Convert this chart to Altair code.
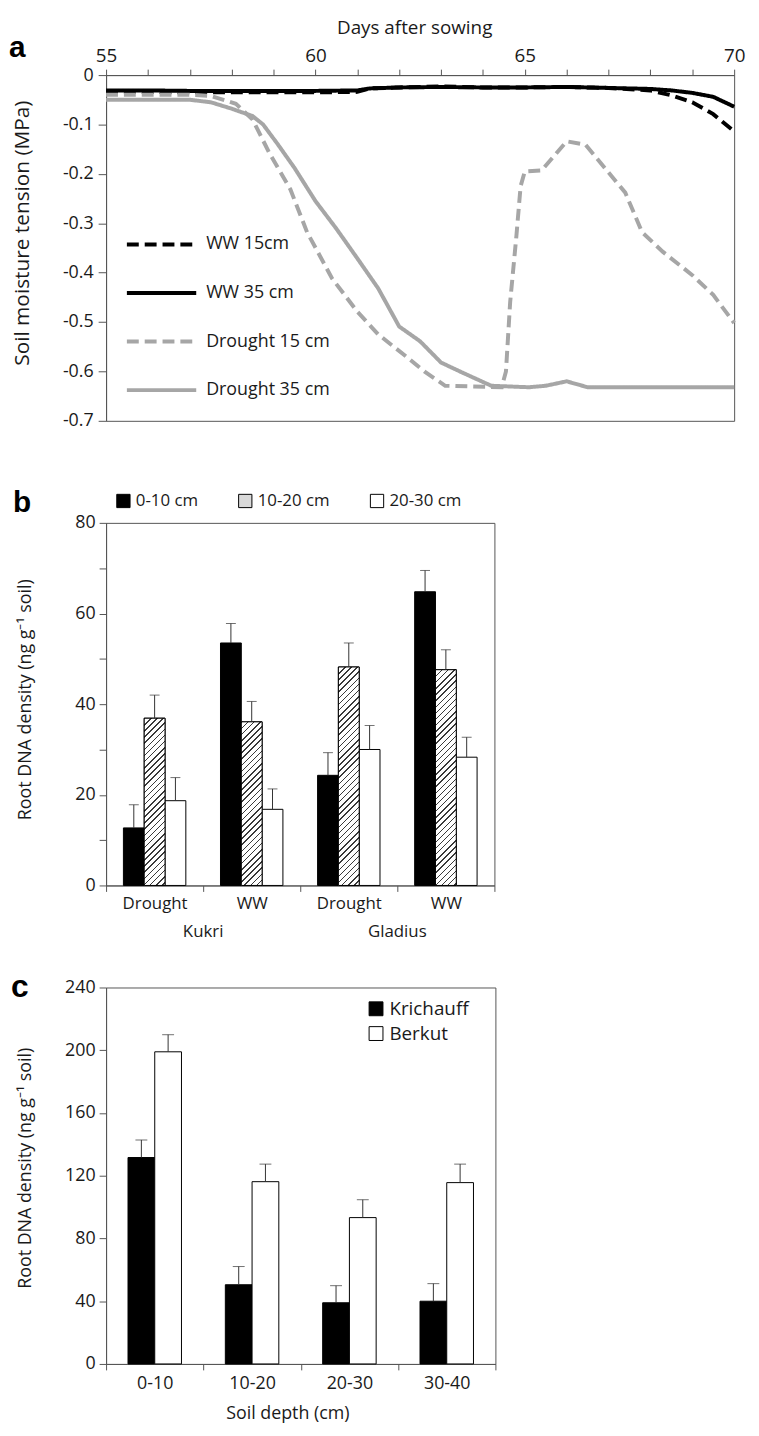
import altair as alt
import pandas as pd

# ---------------- data ----------------
panel_labels = ["a", "b", "c"]

# panel a : soil moisture tension
a_series = ["WW 15cm", "WW 35 cm", "Drought 15 cm", "Drought 35 cm"]
ww15_day = [55, 56, 57, 58, 59, 60, 61, 61.3, 62, 63, 64, 65, 66, 67, 68, 68.5, 69, 69.5, 70]
ww15_val = [-0.034, -0.034, -0.035, -0.035, -0.035, -0.035, -0.034, -0.027, -0.025, -0.023, -0.025,
            -0.025, -0.024, -0.026, -0.031, -0.041, -0.055, -0.079, -0.114]
ww35_day = [55, 56, 57, 58, 59, 60, 61, 61.3, 62, 63, 64, 65, 66, 67, 68, 68.5, 69, 69.5, 70]
ww35_val = [-0.031, -0.031, -0.032, -0.032, -0.032, -0.032, -0.031, -0.027, -0.025, -0.024, -0.025,
            -0.025, -0.024, -0.026, -0.028, -0.031, -0.036, -0.044, -0.064]
d15_day = [55, 56, 57, 57.5, 58.1, 58.5, 58.9, 59.4, 59.8, 60.4, 61.0, 61.5, 62.2, 62.6, 63.1, 64.45,
           64.55, 64.65, 64.8, 64.9, 65.0, 65.4, 66.0, 66.45, 67.4, 67.8, 68.3, 69.0, 69.5, 70]
d15_val = [-0.040, -0.040, -0.040, -0.042, -0.058, -0.090, -0.158, -0.231, -0.318, -0.412, -0.479,
           -0.525, -0.572, -0.600, -0.629, -0.632, -0.600, -0.460, -0.325, -0.225, -0.195, -0.193,
           -0.134, -0.141, -0.238, -0.318, -0.358, -0.405, -0.445, -0.502]
d35_day = [55, 56, 57, 57.5, 58, 58.5, 58.75, 59.1, 59.5, 60.0, 60.5, 61.0, 61.5, 62.0, 62.5, 63.0,
           63.5, 64.2, 65.1, 65.5, 66.0, 66.5, 67, 68, 69, 70]
d35_val = [-0.050, -0.050, -0.050, -0.055, -0.068, -0.083, -0.100, -0.140, -0.188, -0.255, -0.311,
           -0.371, -0.432, -0.509, -0.539, -0.582, -0.602, -0.629, -0.632, -0.629, -0.620, -0.632,
           -0.632, -0.632, -0.632, -0.632]
a_x_ticks = list(range(55, 71))
a_y_ticks = [0, -0.1, -0.2, -0.3, -0.4, -0.5, -0.6, -0.7]
a_x_title = "Days after sowing"
a_y_title = "Soil moisture  tension (MPa)"

# panel b : root DNA density, Kukri / Gladius
b_groups = ["Kukri Drought", "Kukri WW", "Gladius Drought", "Gladius WW"]
b_cultivars = ["Kukri", "Gladius"]
b_depths = ["0-10 cm", "10-20 cm", "20-30 cm"]
b_d1 = [12.7, 53.5, 24.3, 64.8]
b_d2 = [36.9, 36.1, 48.2, 47.6]
b_d3 = [18.7, 16.8, 30.0, 28.3]
b_e1 = [5.1, 4.3, 5.0, 4.7]
b_e2 = [5.1, 4.5, 5.3, 4.4]
b_e3 = [5.1, 4.5, 5.3, 4.4]
b_y_ticks = list(range(0, 81, 10))
b_y_title = "Root DNA density (ng g\u207b\u00b9 soil)"

# panel c : root DNA density, Krichauff / Berkut
c_depths = ["0-10", "10-20", "20-30", "30-40"]
c_cultivars = ["Krichauff", "Berkut"]
c_krich = [131.6, 50.5, 39.0, 40.0]
c_krich_err = [11.2, 11.6, 10.9, 11.2]
c_berkut = [199.0, 116.2, 93.3, 115.6]
c_berkut_err = [10.9, 11.2, 11.4, 11.8]
c_y_ticks = list(range(0, 241, 20))
c_x_title = "Soil depth (cm)"
c_y_title = "Root DNA density (ng g\u207b\u00b9 soil)"

# ---------------- layout / style ----------------
W_A, H_A = 634, 349
W_B, H_B = 392, 366
W_C, H_C = 393, 380
GREY = "#a6a6a6"
AX = "#555555"
TXT = "#1a1a1a"
SANS = "Open Sans"
B_PAD = 0.833
C_PAD = 0.82


def hatch(w, h, period=6.2, line=1.5, ink="#3a3a3a", paper="white"):
    a = (w + h) / (w * w + h * h)
    n = (w + h) / period
    stops = []
    k = 0
    while k / n < 1:
        o0 = k / n
        o1 = min((k + line / period) / n, 1)
        o2 = min((k + 1) / n, 1)
        stops += [(o0, ink), (o1, ink), (o1, paper), (o2, paper)]
        k += 1
    return {"gradient": "linear", "x1": 0, "y1": 0, "x2": a * w, "y2": a * h,
            "stops": [{"offset": round(o, 5), "color": c} for o, c in stops]}


def spacer(y0, y1):
    return alt.Chart(pd.DataFrame({"s": [0]})).mark_rule(opacity=0).encode(
        x=alt.value(-98), x2=alt.value(-98), y=alt.value(y0), y2=alt.value(y1))


def panel_tag(lab, x, y, size=30):
    return alt.Chart(pd.DataFrame({"lab": [lab]})).mark_text(
        font="Liberation Sans", fontWeight="bold", fontSize=size, align="left",
        baseline="alphabetic", color="black").encode(
        text="lab:N", x=alt.value(x), y=alt.value(y))


# ---------------- panel a ----------------
rows = []
for name, days, vals in zip(a_series, [ww15_day, ww35_day, d15_day, d35_day],
                            [ww15_val, ww35_val, d15_val, d35_val]):
    for d, v in zip(days, vals):
        rows.append({"series": name, "day": d, "val": v})
dfa = pd.DataFrame(rows)

a_leg = alt.Legend(title=None, orient="none", legendX=29, legendY=144,
                   symbolType="M-1.4,0H1.4", symbolSize=2500, symbolStrokeWidth=4,
                   labelFont=SANS, labelFontSize=18, labelColor=TXT, labelOffset=18,
                   rowPadding=13)

a_lines = alt.Chart(dfa).mark_line(strokeWidth=4).encode(
    x=alt.X("day:Q", scale=alt.Scale(domain=[55, 70], nice=False, zero=False),
            axis=alt.Axis(orient="top", values=a_x_ticks,
                          labelExpr="datum.value % 5 == 0 ? datum.label : ''",
                          labelFlush=False, labelOverlap=False,
                          title=a_x_title, titleX=311, titleY=-48, titleBaseline="middle",
                          titleFont=SANS, titleFontSize=19, titleFontWeight="normal",
                          titleColor=TXT, labelFont=SANS, labelFontSize=19, labelColor=TXT,
                          tickSize=6, labelPadding=4, domainColor=AX, tickColor=AX, grid=False)),
    y=alt.Y("val:Q", scale=alt.Scale(domain=[-0.7, 0], nice=False, zero=False),
            axis=alt.Axis(values=a_y_ticks,
                          labelExpr="datum.value == 0 ? '0' : '-' + format(abs(datum.value), '.1f')",
                          title=a_y_title, titleX=-84, titleY=159, titleBaseline="middle",
                          titleAngle=-90, titleFont=SANS, titleFontSize=21,
                          titleFontWeight="normal", titleColor=TXT, labelFont=SANS,
                          labelFontSize=18, labelColor=TXT, tickSize=8, labelPadding=5,
                          domainColor=AX, tickColor=AX, grid=False)),
    color=alt.Color("series:N", scale=alt.Scale(domain=a_series,
                                                range=["black", "black", GREY, GREY]),
                    legend=a_leg),
    strokeDash=alt.StrokeDash("series:N", scale=alt.Scale(domain=a_series,
                                                          range=[[12, 6], [1, 0], [12, 6], [1, 0]]),
                              legend=a_leg),
)

panel_a = alt.layer(spacer(-60, H_A + 20), a_lines, panel_tag(panel_labels[0], -98, -18)).properties(
    width=W_A, height=H_A)

# ---------------- panel b ----------------
b_rows = []
for d, vals, errs in zip(b_depths, [b_d1, b_d2, b_d3], [b_e1, b_e2, b_e3]):
    for g, v, e in zip(b_groups, vals, errs):
        b_rows.append({"group": g, "depth": d, "val": v, "hi": v + e})
dfb = pd.DataFrame(b_rows)

xb = alt.X("group:N", scale=alt.Scale(type="band", domain=b_groups, paddingInner=0, paddingOuter=0),
           axis=alt.Axis(title=None, labelExpr="split(datum.label, ' ')[1]", labelAngle=0,
                         tickBand="extent", tickSize=6, labelPadding=4, labelFont=SANS,
                         labelFontSize=17, labelColor=TXT, domainColor=AX, tickColor=AX))
xob = alt.XOffset("depth:N", scale=alt.Scale(type="band", domain=b_depths, paddingInner=0,
                                              paddingOuter=B_PAD))
yb = alt.Y("val:Q", scale=alt.Scale(domain=[0, 80], nice=False),
           axis=alt.Axis(values=b_y_ticks, labelExpr="datum.value % 20 == 0 ? datum.label : ''",
                         title=b_y_title, titleX=-81, titleY=178, titleBaseline="middle",
                         titleFont=SANS, titleFontSize=18, titleFontWeight="normal",
                         titleColor=TXT, labelFont=SANS, labelFontSize=18, labelColor=TXT,
                         tickSize=7, labelPadding=4, domainColor=AX, tickColor=AX, grid=False))

b_leg = alt.Legend(title=None, orient="none", legendX=9, legendY=-31, direction="horizontal",
                   symbolType="square", symbolSize=180, symbolStrokeColor="black",
                   symbolStrokeWidth=1, labelFont=SANS, labelFontSize=17, labelColor=TXT,
                   columnPadding=38, labelOffset=4)

b_bars = alt.Chart(dfb).mark_bar(stroke="black", strokeWidth=1).encode(
    x=xb, xOffset=xob, y=yb,
    fill=alt.Fill("depth:N", scale=alt.Scale(domain=b_depths, range=["black", "#d9d9d9", "white"]),
                  legend=b_leg))

bar_w_b = W_B / len(b_groups) / (len(b_depths) + 2 * B_PAD)
b_hatch_layers = []
for g, v in zip(b_groups, b_d2):
    h = v * H_B / 80.0
    b_hatch_layers.append(
        alt.Chart(dfb).transform_filter(
            f"datum.group == '{g}' && datum.depth == '{b_depths[1]}'"
        ).mark_bar(fill=hatch(bar_w_b, h), stroke="black", strokeWidth=1).encode(
            x=xb, xOffset=xob, y=yb))

b_err = alt.Chart(dfb).mark_rule(color="#333333", strokeWidth=1).encode(
    x=xb, xOffset=xob, y=yb, y2="hi:Q")
b_cap = alt.Chart(dfb).mark_tick(color="#333333", thickness=1, size=10).encode(
    x=xb, xOffset=xob, y=alt.Y("hi:Q"))

b_cult = alt.Chart(pd.DataFrame({"cultivar": b_cultivars,
                                 "group": [f"{c} WW" for c in b_cultivars]})).mark_text(
    font=SANS, fontSize=17, color=TXT, dx=-W_B / 8, baseline="middle").encode(
    x=xb, y=alt.value(H_B + 47), text="cultivar:N")

panel_b = alt.layer(spacer(-81, H_B + 60), b_bars, *b_hatch_layers, b_err, b_cap, b_cult,
                    panel_tag(panel_labels[1], -94, -11)).properties(width=W_B, height=H_B)

# ---------------- panel c ----------------
c_rows = []
for cult, vals, errs in zip(c_cultivars, [c_krich, c_berkut], [c_krich_err, c_berkut_err]):
    for d, v, e in zip(c_depths, vals, errs):
        c_rows.append({"depth": d, "cultivar": cult, "val": v, "hi": v + e})
dfc = pd.DataFrame(c_rows)

xc = alt.X("depth:N", scale=alt.Scale(type="band", domain=c_depths, paddingInner=0, paddingOuter=0),
           axis=alt.Axis(title=c_x_title, titleX=183, titleY=50, titleBaseline="middle",
                         titleFont=SANS, titleFontSize=18, titleFontWeight="normal",
                         titleColor=TXT, labelAngle=0, tickBand="extent", tickSize=6,
                         labelPadding=5, labelFont=SANS, labelFontSize=18, labelColor=TXT,
                         domainColor=AX, tickColor=AX))
xoc = alt.XOffset("cultivar:N", scale=alt.Scale(type="band", domain=c_cultivars, paddingInner=0,
                                                 paddingOuter=C_PAD))
yc = alt.Y("val:Q", scale=alt.Scale(domain=[0, 240], nice=False),
           axis=alt.Axis(values=c_y_ticks, labelExpr="datum.value % 40 == 0 ? datum.label : ''",
                         title=c_y_title, titleX=-81, titleY=182, titleBaseline="middle",
                         titleFont=SANS, titleFontSize=18, titleFontWeight="normal",
                         titleColor=TXT, labelFont=SANS, labelFontSize=18, labelColor=TXT,
                         tickSize=7, labelPadding=4, domainColor=AX, tickColor=AX, grid=False))

c_leg = alt.Legend(title=None, orient="none", legendX=263, legendY=12, direction="vertical",
                   symbolType="square", symbolSize=196, symbolStrokeColor="black",
                   symbolStrokeWidth=1, labelFont=SANS, labelFontSize=19, labelColor=TXT,
                   rowPadding=5, labelOffset=4)

c_bars = alt.Chart(dfc).mark_bar(stroke="black", strokeWidth=1).encode(
    x=xc, xOffset=xoc, y=yc,
    fill=alt.Fill("cultivar:N", scale=alt.Scale(domain=c_cultivars, range=["black", "white"]),
                  legend=c_leg))
c_err = alt.Chart(dfc).mark_rule(color="#333333", strokeWidth=1).encode(
    x=xc, xOffset=xoc, y=yc, y2="hi:Q")
c_cap = alt.Chart(dfc).mark_tick(color="#333333", thickness=1, size=12).encode(
    x=xc, xOffset=xoc, y=alt.Y("hi:Q"))

panel_c = alt.layer(spacer(-41, H_C + 10), c_bars, c_err, c_cap,
                    panel_tag(panel_labels[2], -96, 10, 32)).properties(width=W_C, height=H_C)

chart = alt.vconcat(panel_a, panel_b, panel_c, spacing=0).resolve_scale(
    color="independent", fill="independent", strokeDash="independent", xOffset="independent"
).resolve_legend(
    color="independent", fill="independent", strokeDash="independent"
).properties(
    padding={"left": 0, "top": 0, "right": 5, "bottom": 5}
).configure_view(stroke=AX, strokeWidth=1).configure_axis(grid=False)

chart.save("out.html", embed_options={"renderer": "svg", "actions": False})
